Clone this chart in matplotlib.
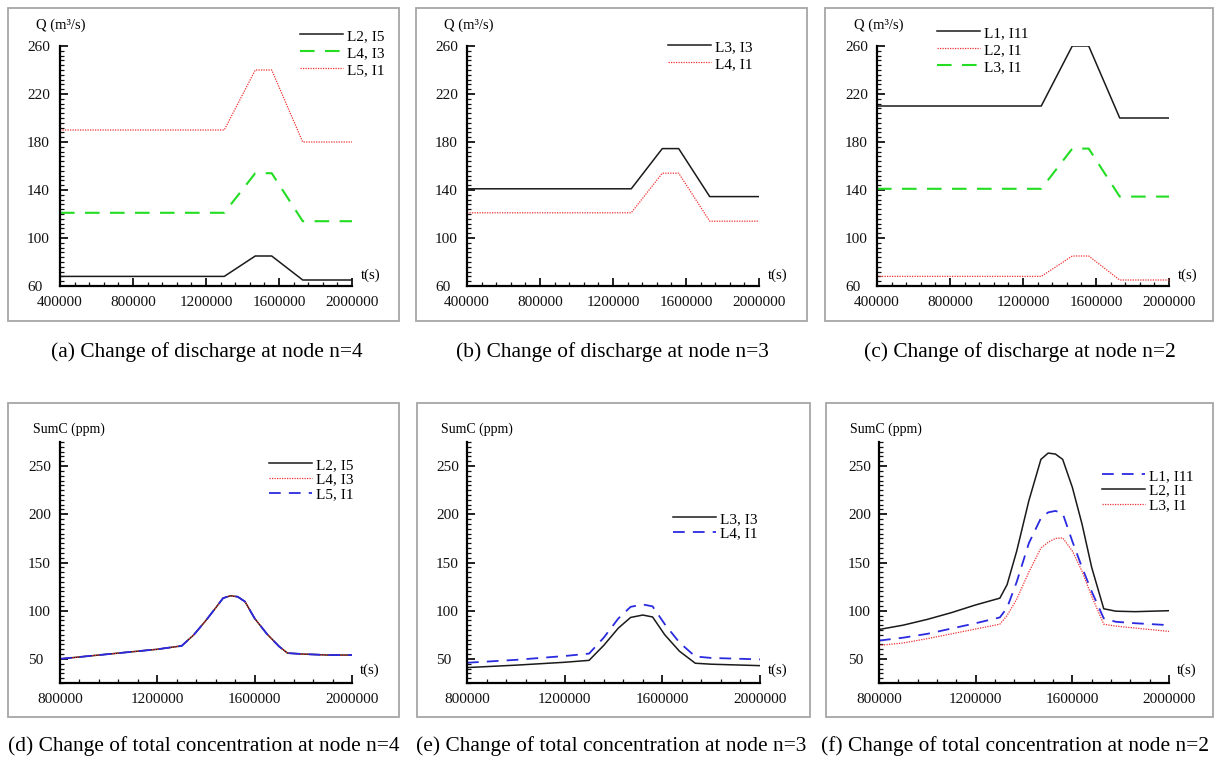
import matplotlib
matplotlib.use("Agg")
import matplotlib.pyplot as plt
from matplotlib.ticker import MultipleLocator, FormatStrFormatter
from matplotlib.patches import Rectangle

plt.rcParams['font.family'] = ['Liberation Serif', 'DejaVu Serif']

# discharge curves, nodes 4,3,2
t_q = [400000, 1300000, 1470000, 1560000, 1730000, 2000000]
q_a_L2I5 = [68, 68, 85, 85, 65, 65]
q_a_L4I3 = [121, 121, 154, 154, 114, 114]
q_a_L5I1 = [190, 190, 240, 240, 180, 180]
q_b_L3I3 = [141, 141, 174.5, 174.5, 134.5, 134.5]
q_b_L4I1 = [121, 121, 154, 154, 114, 114]
q_c_L1I11 = [210, 210, 260, 260, 200, 200]
q_c_L2I1 = [68, 68, 85, 85, 65, 65]
q_c_L3I1 = [141, 141, 174.5, 174.5, 134.5, 134.5]
q_ticks = [60, 100, 140, 180, 220, 260]

# total concentration, node 4 (three cases overlap)
t_d = [800000, 1000000, 1200000, 1300000, 1350000, 1400000, 1440000, 1470000,
       1500000, 1530000, 1560000, 1600000, 1650000, 1700000, 1735000, 1800000,
       1900000, 2000000]
c_d = [50, 55, 60, 63.5, 75, 90, 103, 113, 115.5, 114.5, 109.5, 92, 76, 63,
       56, 55, 54, 54]

# node 3
t_e = [800000, 1000000, 1200000, 1300000, 1360000, 1420000, 1470000, 1520000,
       1560000, 1610000, 1670000, 1735000, 1800000, 2000000]
c_e_L3I3 = [41, 43.5, 46.5, 48.5, 64, 82, 93, 95.5, 93.5, 75, 58, 45.5, 44.5, 43]
c_e_L4I1 = [46, 49, 53, 55.5, 72, 92, 104, 106.5, 104.5, 86, 67, 52.5, 51, 49.5]

# node 2
t_f = [800000, 900000, 1000000, 1100000, 1200000, 1300000, 1330000, 1370000,
       1420000, 1470000, 1500000, 1530000, 1560000, 1600000, 1640000, 1680000,
       1730000, 1780000, 1860000, 2000000]
c_f_L1I11 = [69, 72, 76, 81.5, 87, 93, 103, 130, 170, 196, 202, 203.5, 201,
             172, 145, 120, 92, 88.5, 87, 85]
c_f_L2I1 = [80.5, 85, 91, 98, 106, 113, 127, 162, 214, 257, 263.5, 262.5, 257,
            228, 190, 145, 102, 99.5, 99, 100]
c_f_L3I1 = [64, 66.5, 71, 76, 81, 86, 95, 112, 140, 165, 171, 175, 175.5,
            162, 141, 115, 86, 84, 82, 78.5]
c_ticks = [50, 100, 150, 200, 250]

captions = ["(a) Change of discharge at node n=4",
            "(b) Change of discharge at node n=3",
            "(c) Change of discharge at node n=2",
            "(d) Change of total concentration at node n=4",
            "(e) Change of total concentration at node n=3",
            "(f) Change of total concentration at node n=2"]

W, H = 1217, 767
fig = plt.figure(figsize=(W / 100, H / 100), dpi=100)

BLACK = dict(color='#1a1a1a', lw=1.1, ls='-')
RED = dict(color='#f03030', lw=0.9, ls=(0, (1, 1)))
GREEN = dict(color='#22dd22', lw=1.5, ls=(0, (7, 5)))
BLUE = dict(color='#2a2ae0', lw=1.3, ls=(0, (6.5, 4.5)))


def fx(x):
    return x / W


def fy(y):
    return 1 - y / H


def make_ax(left, right, top, bottom, label_left):
    ax = fig.add_axes([fx(left), fy(bottom), (right - left) / W, (bottom - top) / H])
    ax.spines['top'].set_visible(False)
    ax.spines['right'].set_visible(False)
    ax.spines['left'].set_linewidth(1.6)
    ax.spines['bottom'].set_linewidth(1.6)
    ax.tick_params(which='both', direction='in', colors='#111111', labelsize=11)
    ax.tick_params(which='major', length=6, width=1.3)
    ax.tick_params(which='minor', length=3, width=0.9)
    ax.xaxis.set_major_locator(MultipleLocator(400000))
    ax.xaxis.set_minor_locator(MultipleLocator(80000))
    ax.xaxis.set_major_formatter(FormatStrFormatter('%d'))
    ax.tick_params(axis='x', pad=7)
    # y labels are left aligned in the original
    ax.tick_params(axis='y', pad=(left - label_left) * 0.72)
    return ax


def frame(x0, y0, x1, y1):
    fig.patches.append(Rectangle((fx(x0), fy(y1)), (x1 - x0) / W, (y1 - y0) / H,
                                 transform=fig.transFigure, fill=False,
                                 edgecolor='#a6a6a6', lw=1.3))


def legend(ax, x, y, spacing):
    ax.legend(loc='upper left', bbox_to_anchor=(fx(x), fy(y)),
              bbox_transform=fig.transFigure, frameon=False, fontsize=11,
              handlelength=2.8, handletextpad=0.3, labelspacing=spacing,
              borderpad=0, borderaxespad=0)


# frames
frame(8, 8, 399, 321)
frame(416, 8, 807, 321)
frame(825, 8, 1213, 321)
frame(8, 403, 399, 717)
frame(417, 403, 810, 717)
frame(826, 403, 1213, 717)

top_x = [(60, 352), (467, 759), (877, 1169)]
bot_x = [(60, 352), (467, 760), (879, 1169)]
top_series = [
    [(q_a_L2I5, 'L2, I5', BLACK), (q_a_L4I3, 'L4, I3', GREEN), (q_a_L5I1, 'L5, I1', RED)],
    [(q_b_L3I3, 'L3, I3', BLACK), (q_b_L4I1, 'L4, I1', RED)],
    [(q_c_L1I11, 'L1, I11', BLACK), (q_c_L2I1, 'L2, I1', RED), (q_c_L3I1, 'L3, I1', GREEN)],
]
top_leg = [(300, 29), (668, 40), (937, 26)]
top_lab = [61, 469, 879]
top_t = [371, 778, 1188]
top_cap = [207, 612, 1020]
top_ylab = [27, 435, 845]

for i in range(3):
    l, r = top_x[i]
    ax = make_ax(l, r, 46, 286, top_ylab[i])
    for vals, lab, st in top_series[i]:
        ax.plot(t_q, vals, label=lab, **st)
    ax.set_xlim(400000, 2000000)
    ax.set_ylim(60, 260)
    ax.set_yticks(q_ticks)
    ax.yaxis.set_minor_locator(MultipleLocator(4))
    for t in ax.get_yticklabels():
        t.set_horizontalalignment('left')
    legend(ax, top_leg[i][0], top_leg[i][1], 0.22)
    fig.text(fx(top_lab[i]), fy(25), 'Q (m³/s)', ha='center', va='center', fontsize=10.5)
    fig.text(fx(top_t[i]), fy(275), 't(s)', ha='center', va='center', fontsize=10.8)
    fig.text(fx(top_cap[i]), fy(352), captions[i], ha='center', va='center', fontsize=15.4)

bot_series = [
    (t_d, [(c_d, 'L2, I5', BLACK), (c_d, 'L4, I3', RED), (c_d, 'L5, I1', BLUE)]),
    (t_e, [(c_e_L3I3, 'L3, I3', BLACK), (c_e_L4I1, 'L4, I1', BLUE)]),
    (t_f, [(c_f_L1I11, 'L1, I11', BLUE), (c_f_L2I1, 'L2, I1', BLACK), (c_f_L3I1, 'L3, I1', RED)]),
]
bot_leg = [(269, 458), (673, 512), (1102, 469)]
bot_lab = [69, 477, 886]
bot_t = [370, 778, 1187]
bot_cap = [204, 611, 1015]
bot_ylab = [28, 436, 848]

for i in range(3):
    l, r = bot_x[i]
    ax = make_ax(l, r, 442, 683, bot_ylab[i])
    tt, series = bot_series[i]
    for vals, lab, st in series:
        ax.plot(tt, vals, label=lab, **st)
    ax.set_xlim(800000, 2000000)
    ax.set_ylim(25, 275)
    ax.set_xticks([800000, 1200000, 1600000, 2000000])
    ax.set_yticks(c_ticks)
    ax.yaxis.set_minor_locator(MultipleLocator(5))
    for t in ax.get_yticklabels():
        t.set_horizontalalignment('left')
    legend(ax, bot_leg[i][0], bot_leg[i][1], 0.08)
    fig.text(fx(bot_lab[i]), fy(429), 'SumC (ppm)', ha='center', va='center', fontsize=10)
    fig.text(fx(bot_t[i]), fy(670), 't(s)', ha='center', va='center', fontsize=10.8)
    fig.text(fx(bot_cap[i]), fy(746), captions[i + 3], ha='center', va='center', fontsize=15.4)

fig.savefig('out.png', dpi=100, facecolor='white')
